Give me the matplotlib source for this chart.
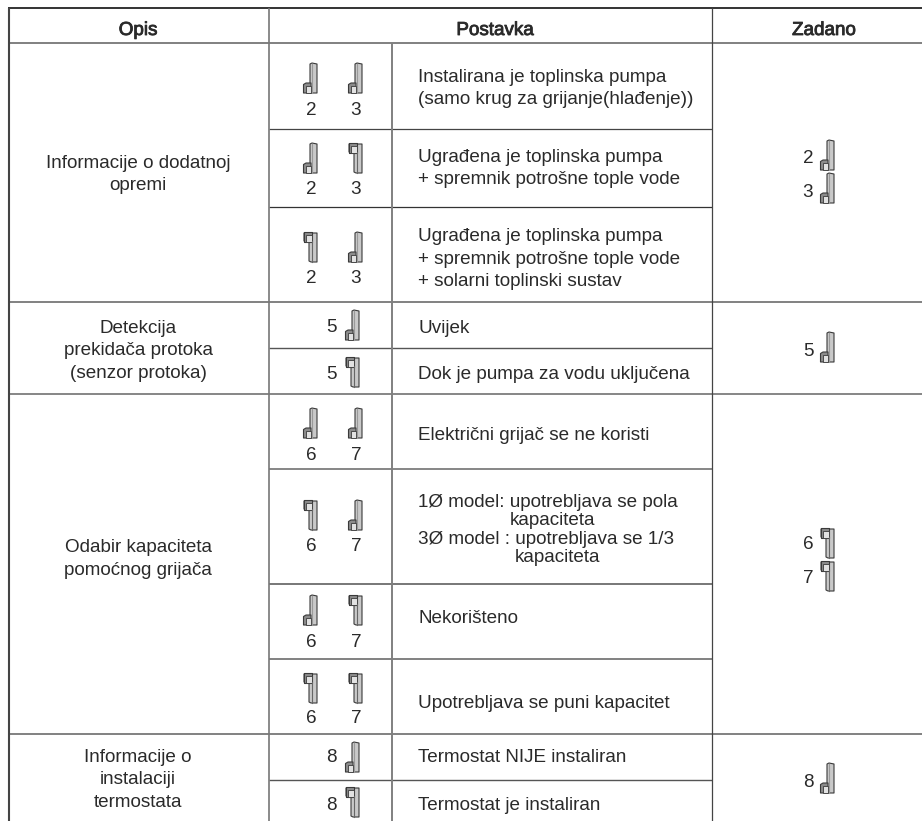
import matplotlib
matplotlib.use("Agg")
import matplotlib.pyplot as plt
from matplotlib.patches import Polygon
import matplotlib.patheffects as pe

W, H = 922, 821
FONT = "Liberation Sans"
TXT = "#2a2a2a"
FS = 13.55

headers = ["Opis", "Postavka", "Zadano"]
opis_text = [("Informacije o dodatnoj", 168), ("opremi", 190),
             ("Detekcija", 333), ("prekidača protoka", 355), ("(senzor protoka)", 378),
             ("Odabir kapaciteta", 552), ("pomoćnog grijača", 575),
             ("Informacije o", 762), ("instalaciji", 784), ("termostata", 807)]
postavka_text = [("Instalirana je toplinska pumpa", 418, 82),
                 ("(samo krug za grijanje(hlađenje))", 418, 104),
                 ("Ugrađena je toplinska pumpa", 418, 162),
                 ("+ spremnik potrošne tople vode", 418, 184),
                 ("Ugrađena je toplinska pumpa", 418, 241),
                 ("+ spremnik potrošne tople vode", 418, 264),
                 ("+ solarni toplinski sustav", 418, 286),
                 ("Uvijek", 418, 333),
                 ("Dok je pumpa za vodu uključena", 418, 379),
                 ("Električni grijač se ne koristi", 418, 440),
                 ("1Ø model: upotrebljava se pola", 418, 507),
                 ("kapaciteta", 510, 525),
                 ("3Ø model : upotrebljava se 1/3", 418, 544),
                 ("kapaciteta", 515, 562),
                 ("Nekorišteno", 418, 623),
                 ("Upotrebljava se puni kapacitet", 418, 708),
                 ("Termostat NIJE instaliran", 418, 762),
                 ("Termostat je instaliran", 418, 810)]

# paired switches: digits, states (d=down, u=up), icon top, digit baseline
pair_rows = [(("2", "3"), "dd", 63, 115), (("2", "3"), "du", 143, 194), (("2", "3"), "ud", 232, 283),
             (("6", "7"), "dd", 408, 460), (("6", "7"), "ud", 500, 551),
             (("6", "7"), "du", 595, 647), (("6", "7"), "uu", 673, 723)]
# single switches: digit, state, icon top, digit baseline
single_rows = [("5", "d", 310, 332), ("5", "u", 357, 379), ("8", "d", 742, 762), ("8", "u", 787, 810)]
default_rows = [("2", "d", 140, 163), ("3", "d", 173, 197), ("5", "d", 332, 356),
                ("6", "u", 528, 549), ("7", "u", 561, 583), ("8", "d", 763, 787)]

# rules: y, x0, x1, colour, width
h_rules = [(8, 8, 922, "#333333", 1.4), (43.5, 8, 922, "#808080", 1.4),
           (129, 269, 712, "#444444", 0.9), (207, 269, 712, "#333333", 0.9),
           (302.5, 8, 922, "#777777", 1.3), (348.5, 269, 712, "#555555", 1.0),
           (394, 8, 922, "#666666", 1.1), (469.5, 269, 712, "#666666", 1.1),
           (584, 269, 712, "#777777", 1.4), (659, 269, 712, "#777777", 1.3),
           (734, 8, 922, "#777777", 1.3), (780, 269, 712, "#555555", 1.0)]
# rules: x, y0, colour, width
v_rules = [(8.5, 8, "#444444", 1.5), (269, 8, "#777777", 1.2), (392, 43.5, "#808080", 1.4), (712, 8, "#444444", 0.9)]

fig = plt.figure(figsize=(W / 100, H / 100), dpi=100)
ax = fig.add_axes([0, 0, 1, 1])
ax.set_xlim(0, W)
ax.set_ylim(H, 0)
ax.axis("off")


def label(x, y, s, ha="left", **kw):
    ax.text(x, y, s, ha=ha, va="baseline", family=FONT, fontsize=FS, color=TXT, **kw)


def switch(x, y, state):
    edge = "#3a3a3a"
    kw = dict(closed=True, lw=0.8, ec=edge, joinstyle="round")
    h = 30
    if state == "d":
        ax.add_patch(Polygon([(x + 6, y + 1), (x + 8, y), (x + 13, y + 1), (x + 13, y + h), (x + 6, y + h)], fc="#c9c9c9", **kw))
        ax.plot([x + 8, x + 8], [y + 1, y + h], color="#9a9a9a", lw=0.8)
        ax.add_patch(Polygon([(x - 0.5, y + 21.5), (x + 2, y + 20), (x + 7, y + 20), (x + 7, y + h), (x - 0.5, y + h)], fc="#8c8c8c", **kw))
        ax.add_patch(Polygon([(x + 2, y + 23), (x + 7, y + 23), (x + 7, y + h), (x + 2, y + h)], fc="#e2e2e2", lw=0.6, ec=edge))
    else:
        ax.add_patch(Polygon([(x + 5, y + 9), (x + 5, y + h - 1), (x + 7, y + h), (x + 13, y + h), (x + 13, y + 1),
                              (x, y + 1), (x, y + 9)], fc="#c9c9c9", **kw))
        ax.plot([x + 7.5, x + 7.5], [y + 9, y + h], color="#666666", lw=0.8)
        ax.add_patch(Polygon([(x - 0.5, y), (x + 7.5, y), (x + 7.5, y + 10), (x - 0.5, y + 10)], fc="#8c8c8c", **kw))
        ax.add_patch(Polygon([(x + 2, y + 3), (x + 7.5, y + 3), (x + 7.5, y + 10), (x + 2, y + 10)], fc="#e2e2e2", lw=0.6, ec=edge))


for y, x0, x1, c, lw in h_rules:
    ax.plot([x0, x1], [y, y], color=c, lw=lw, solid_capstyle="butt")
for x, y0, c, lw in v_rules:
    ax.plot([x, x], [y0, H], color=c, lw=lw, solid_capstyle="butt")

stroke = [pe.withStroke(linewidth=0.6, foreground=TXT)]
for (x, s) in zip((138, 495, 824), headers):
    label(x, 35, s, ha="center", path_effects=stroke)

for s, y in opis_text:
    label(138, y, s, ha="center")
for s, x, y in postavka_text:
    label(x, y, s)

for digits, states, top, base in pair_rows:
    for col, (dx, ix) in enumerate(((311, 304), (356, 349))):
        label(dx, base, digits[col], ha="center")
        switch(ix, top, states[col])
for d, st, top, base in single_rows:
    label(331, base, d, ha="center")
    switch(346, top, st)
for d, st, top, base in default_rows:
    label(808, base, d, ha="center")
    switch(821, top, st)

fig.savefig("out.png", dpi=100, facecolor="white")
